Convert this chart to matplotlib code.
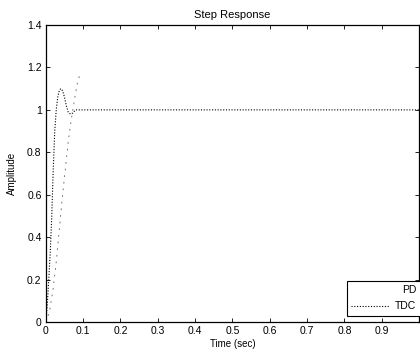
import matplotlib
matplotlib.use("Agg")
import matplotlib.pyplot as plt

plt.rcParams['font.family'] = ['Liberation Sans', 'DejaVu Sans']

# TDC step response (dotted)
t_tdc = [0, 0.004, 0.008, 0.012, 0.016, 0.02, 0.024, 0.028, 0.032, 0.036, 0.04,
         0.045, 0.05, 0.055, 0.06, 0.066, 0.072, 0.08, 0.09, 0.2, 0.4, 0.6, 0.8, 1.0]
y_tdc = [0, 0.08, 0.2, 0.33, 0.5, 0.72, 0.9, 1.0, 1.06, 1.09, 1.1,
         1.09, 1.06, 1.02, 0.99, 0.98, 0.985, 1.0, 1.0, 1.0, 1.0, 1.0, 1.0, 1.0]

# PD response (only faint fragments survive)
t_pd = [0.0, 0.01, 0.02, 0.029, 0.037, 0.045, 0.053, 0.06, 0.068, 0.077, 0.085, 0.092]
y_pd = [0.0, 0.05, 0.16, 0.3, 0.45, 0.6, 0.73, 0.85, 0.95, 1.05, 1.13, 1.17]

xticks = [0, 0.1, 0.2, 0.3, 0.4, 0.5, 0.6, 0.7, 0.8, 0.9, 1.0]
xlabels = ['0', '0.1', '0.2', '0.3', '0.4', '0.5', '0.6', '0.7', '0.8', '0.9', '']
yticks = [0, 0.2, 0.4, 0.6, 0.8, 1.0, 1.2, 1.4]
ylabels = ['0', '0.2', '0.4', '0.6', '0.8', '1', '1.2', '1.4']

fig = plt.figure(figsize=(4.2, 3.52), dpi=100)
ax = fig.add_axes([0.109, 0.085, 0.889, 0.844])

ax.plot(t_pd, y_pd, color='0.35', lw=0.6, linestyle=(0, (2, 6)), label='PD')
ax.plot(t_tdc, y_tdc, color='black', lw=0.8, linestyle=(0, (1, 1.5)), label='TDC')

ax.set_xlim(0, 1)
ax.set_ylim(0, 1.4)
ax.set_xticks(xticks)
ax.set_xticklabels(xlabels)
ax.set_yticks(yticks)
ax.set_yticklabels(ylabels)
ax.tick_params(direction='in', length=3, width=0.6, labelsize=7.5,
               top=True, right=True, pad=3)
for s in ax.spines.values():
    s.set_linewidth(0.9)

ax.set_title('Step Response', fontsize=8, pad=5)
ax.set_xlabel('Time (sec)', fontsize=7, labelpad=2)
ax.set_ylabel('Amplitude', fontsize=7, labelpad=7)

leg = ax.legend(loc='lower right', bbox_to_anchor=(1.005, 0.02), fontsize=7.5,
                frameon=True, fancybox=False, edgecolor='black', framealpha=1,
                borderaxespad=0, handlelength=3.6, handletextpad=0.6,
                labelspacing=0.6, borderpad=0.45)
leg.get_frame().set_linewidth(0.8)
leg.get_lines()[0].set_visible(False)
# right-align the labels like MATLAB
for col in leg._legend_handle_box.get_children():
    col.align = 'right'

fig.savefig('out.png', dpi=100)
